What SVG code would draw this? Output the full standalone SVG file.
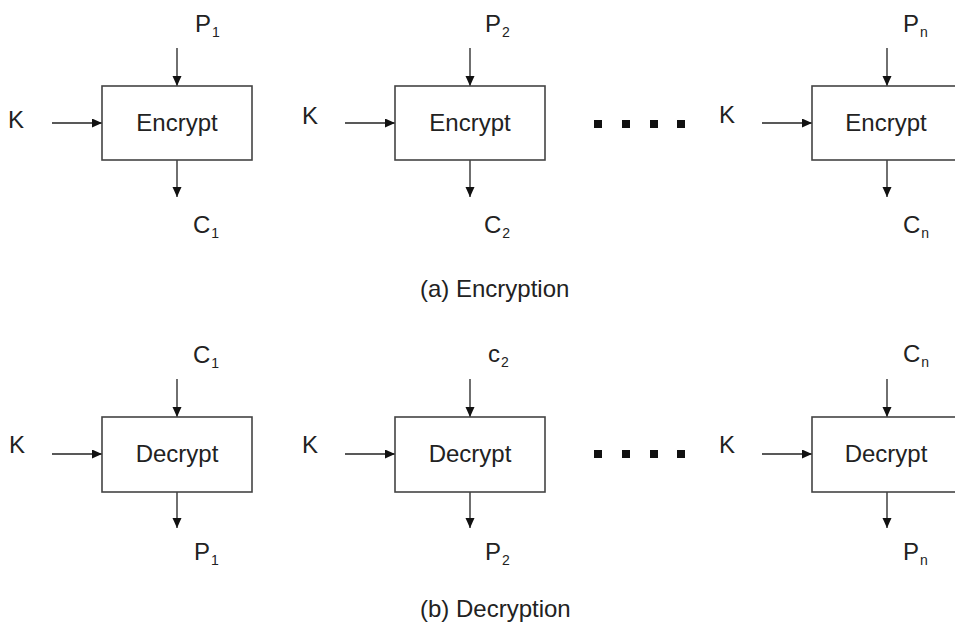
<svg xmlns="http://www.w3.org/2000/svg" width="955" height="632" viewBox="0 0 955 632">
<defs>
<style>
.box{fill:#fff;stroke:#444;stroke-width:1.6}
.ln{stroke:#222;stroke-width:1.3;fill:none;marker-end:url(#ah)}
text{font-family:"Liberation Sans",Arial,sans-serif;font-size:24px;fill:#222}
.sub{font-size:14px}
.mid{text-anchor:middle}
.dot{fill:#111}
</style>
<marker id="ah" markerUnits="userSpaceOnUse" markerWidth="12" markerHeight="10" refX="10" refY="4.5" orient="auto">
<path d="M0,0 L10,4.5 L0,9 z" fill="#111"/>
</marker>
</defs>
<rect width="955" height="632" fill="#fff"/>

<g id="connectors">
<line class="ln" x1="177" y1="48" x2="177" y2="86"/>
<line class="ln" x1="177" y1="160" x2="177" y2="197"/>
<line class="ln" x1="52" y1="123" x2="102" y2="123"/>
<line class="ln" x1="470" y1="48" x2="470" y2="86"/>
<line class="ln" x1="470" y1="160" x2="470" y2="197"/>
<line class="ln" x1="345" y1="123" x2="395" y2="123"/>
<line class="ln" x1="887" y1="48" x2="887" y2="86"/>
<line class="ln" x1="887" y1="160" x2="887" y2="197"/>
<line class="ln" x1="762" y1="123" x2="812" y2="123"/>

<line class="ln" x1="177" y1="379" x2="177" y2="417"/>
<line class="ln" x1="177" y1="492" x2="177" y2="528"/>
<line class="ln" x1="52" y1="454" x2="102" y2="454"/>
<line class="ln" x1="470" y1="379" x2="470" y2="417"/>
<line class="ln" x1="470" y1="492" x2="470" y2="528"/>
<line class="ln" x1="345" y1="454" x2="395" y2="454"/>
<line class="ln" x1="887" y1="379" x2="887" y2="417"/>
<line class="ln" x1="887" y1="492" x2="887" y2="528"/>
<line class="ln" x1="762" y1="454" x2="812" y2="454"/>
</g>

<g id="enc1">
<rect class="box" x="102" y="86" width="150" height="74"/>
<text class="mid" x="177" y="131">Encrypt</text>
</g>
<g id="enc2">
<rect class="box" x="395" y="86" width="150" height="74"/>
<text class="mid" x="470" y="131">Encrypt</text>
</g>
<g id="enc3">
<rect class="box" x="812" y="86" width="150" height="74"/>
<text class="mid" x="886" y="131">Encrypt</text>
</g>
<g id="dec1">
<rect class="box" x="102" y="417" width="150" height="75"/>
<text class="mid" x="177" y="462">Decrypt</text>
</g>
<g id="dec2">
<rect class="box" x="395" y="417" width="150" height="75"/>
<text class="mid" x="470" y="462">Decrypt</text>
</g>
<g id="dec3">
<rect class="box" x="812" y="417" width="150" height="75"/>
<text class="mid" x="886" y="462">Decrypt</text>
</g>

<g id="labels">
<text x="8" y="128">K</text>
<text x="302" y="124">K</text>
<text x="719" y="123">K</text>
<text x="9" y="453">K</text>
<text x="302" y="453">K</text>
<text x="719" y="453">K</text>

<text x="195" y="32">P<tspan class="sub" dx="1" dy="5">1</tspan></text>
<text x="193" y="233">C<tspan class="sub" dx="1" dy="5">1</tspan></text>
<text x="485" y="32">P<tspan class="sub" dx="1" dy="5">2</tspan></text>
<text x="484" y="233">C<tspan class="sub" dx="1" dy="5">2</tspan></text>
<text x="903" y="32">P<tspan class="sub" dx="1" dy="5">n</tspan></text>
<text x="903" y="233">C<tspan class="sub" dx="1" dy="5">n</tspan></text>

<text x="193" y="363">C<tspan class="sub" dx="1" dy="5">1</tspan></text>
<text x="194" y="560">P<tspan class="sub" dx="1" dy="5">1</tspan></text>
<text x="488" y="362">c<tspan class="sub" dx="1" dy="5">2</tspan></text>
<text x="485" y="560">P<tspan class="sub" dx="1" dy="5">2</tspan></text>
<text x="903" y="362">C<tspan class="sub" dx="1" dy="5">n</tspan></text>
<text x="903" y="560">P<tspan class="sub" dx="1" dy="5">n</tspan></text>

<text x="420" y="297">(a) Encryption</text>
<text x="420" y="617">(b) Decryption</text>
</g>

<g id="dots-enc">
<rect class="dot" x="594" y="120" width="8" height="8"/>
<rect class="dot" x="622" y="120" width="8" height="8"/>
<rect class="dot" x="650" y="120" width="8" height="8"/>
<rect class="dot" x="677" y="120" width="8" height="8"/>
</g>
<g id="dots-dec">
<rect class="dot" x="594" y="450" width="8" height="8"/>
<rect class="dot" x="622" y="450" width="8" height="8"/>
<rect class="dot" x="650" y="450" width="8" height="8"/>
<rect class="dot" x="677" y="450" width="8" height="8"/>
</g>
</svg>
